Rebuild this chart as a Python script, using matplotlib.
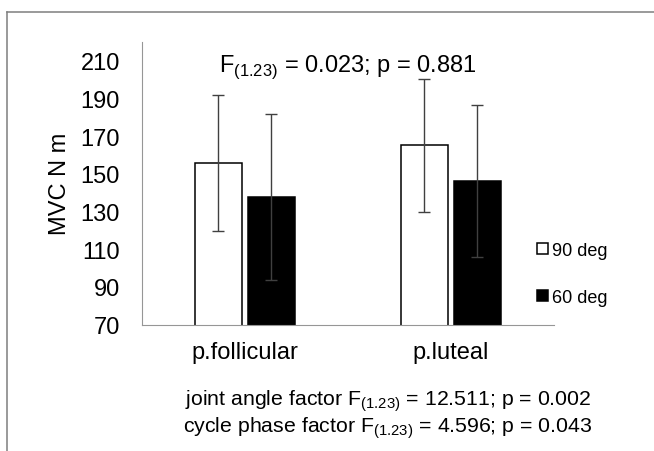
import numpy as np
import matplotlib
matplotlib.use('Agg')
import matplotlib.pyplot as plt
from matplotlib.patches import Patch
from matplotlib.lines import Line2D

plt.rcParams['font.family'] = ['Liberation Sans', 'DejaVu Sans']
plt.rcParams['mathtext.fontset'] = 'custom'
plt.rcParams['mathtext.rm'] = 'Liberation Sans'

# dados
fases = ['p.follicular', 'p.luteal']
media_90 = [155.7, 165.0]
dp_90 = [36.0, 35.2]
media_60 = [137.9, 146.2]
dp_60 = [44.0, 40.5]
ticks_y = [70, 90, 110, 130, 150, 170, 190, 210]

titulo = r'F$_{\mathregular{(1.23)}}$ = 0.023; p = 0.881'
linha1 = r'joint angle factor F$_{\mathregular{(1.23)}}$ = 12.511; p = 0.002'
linha2 = r'cycle phase factor F$_{\mathregular{(1.23)}}$ = 4.596; p = 0.043'

W, H = 654, 452
fig = plt.figure(figsize=(W / 100, H / 100), dpi=100)
ax = fig.add_axes([141.7 / W, 1 - 325.7 / H, (554 - 141.7) / W, (325.7 - 42.7) / H])

x = np.arange(len(fases))
larg = 0.228
desl = 0.1285

ax.bar(x - desl, media_90, larg, bottom=0, color='white', edgecolor='black', linewidth=1.1, zorder=2)
ax.bar(x + desl, media_60, larg, color='black', edgecolor='black', linewidth=1.1, zorder=2)
ax.errorbar(x - desl, media_90, yerr=dp_90, fmt='none', ecolor='#404040', elinewidth=1.0,
            capsize=4, capthick=1.0, zorder=3)
ax.errorbar(x + desl, media_60, yerr=dp_60, fmt='none', ecolor='#404040', elinewidth=1.0,
            capsize=4, capthick=1.0, zorder=3)

ax.set_xlim(-0.5, 1.5)
ax.set_ylim(70, 220)
ax.set_yticks(ticks_y)
ax.set_xticks(x)
ax.set_xticklabels(fases)
ax.tick_params(axis='y', length=0, pad=15.6, labelsize=17)
ax.tick_params(axis='x', length=0, pad=11.4, labelsize=17)

for lado in ['top', 'right']:
    ax.spines[lado].set_visible(False)
for lado in ['left', 'bottom']:
    ax.spines[lado].set_color('#969696')
    ax.spines[lado].set_linewidth(0.8)

ax.set_ylabel('MVC N m', fontsize=17)
ax.yaxis.set_label_coords(-0.172, 0.5)

# legenda
handles = [Patch(facecolor='white', edgecolor='black', linewidth=1.1, label='90 deg'),
           Patch(facecolor='black', edgecolor='black', linewidth=1.1, label='60 deg')]
fig.legend(handles=handles, loc='center left', bbox_to_anchor=(537 / W, 1 - 275 / H),
           frameon=False, fontsize=13, handlelength=0.6, handleheight=0.6,
           handletextpad=0.25, labelspacing=1.65, borderpad=0, borderaxespad=0)

# textos
fig.text(347.5 / W, 1 - 71.7 / H, titulo, ha='center', va='baseline', fontsize=17)
fig.text(388 / W, 1 - 405 / H, linha1, ha='center', va='baseline', fontsize=15.3)
fig.text(388 / W, 1 - 432.7 / H, linha2, ha='center', va='baseline', fontsize=15.3)

# moldura
fig.add_artist(Line2D([6.5 / W, 6.5 / W], [0, 1 - 13 / H], color='#7f7f7f', linewidth=1.1,
                      transform=fig.transFigure))
fig.add_artist(Line2D([6.5 / W, 1], [1 - 13 / H, 1 - 13 / H], color='#7f7f7f', linewidth=1.1,
                      transform=fig.transFigure))

fig.savefig('out.png', dpi=100)
